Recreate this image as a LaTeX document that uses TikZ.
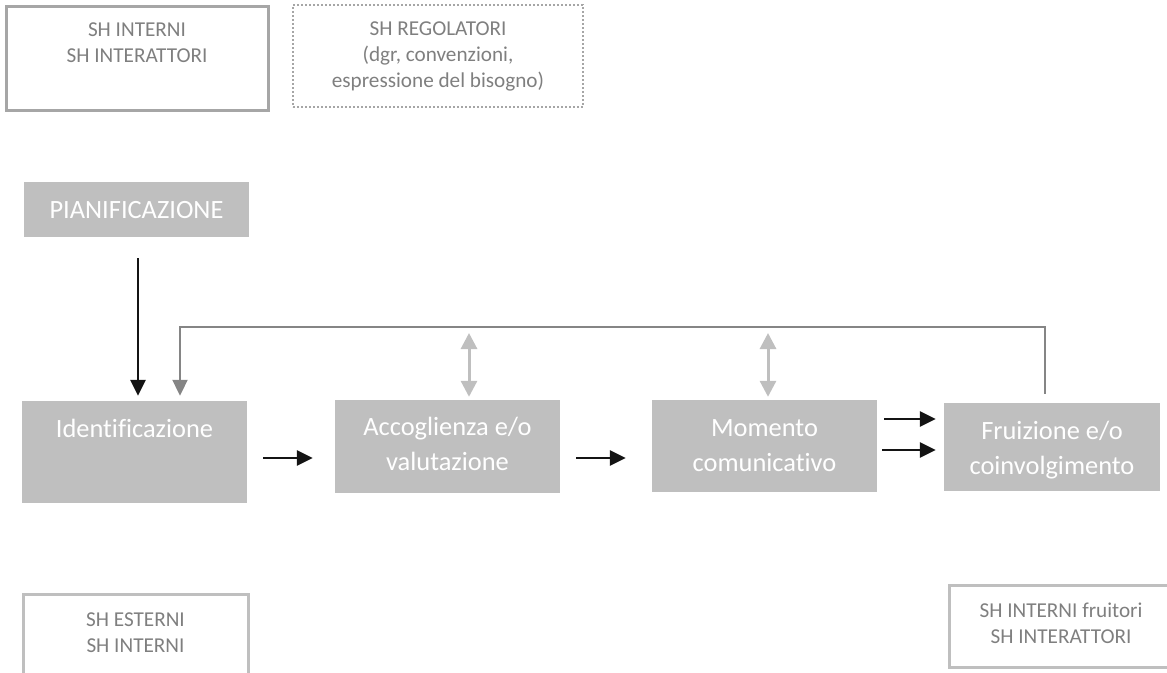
\documentclass[tikz,border=0pt]{standalone}
\usepackage{fontspec}
\setmainfont[Ligatures=NoCommon]{Carlito}
\usetikzlibrary{arrows.meta}
\definecolor{boxfill}{HTML}{BFBFBF}
\definecolor{soft}{HTML}{BFBFBF}
\definecolor{midgray}{HTML}{A6A6A6}
\definecolor{txtgray}{HTML}{7F7F7F}
\definecolor{fbgray}{HTML}{858585}
\definecolor{ink}{HTML}{141414}
\tikzset{
  stagebox/.style={draw=none, fill=boxfill, inner sep=0pt},
  framebox/.style={draw=soft, line width=3pt, fill=none, inner sep=0pt},
  stagetxt/.style={text=white, align=center, inner sep=0pt,
    font=\fontsize{26.4}{35}\selectfont},
  frametxt/.style={text=txtgray, align=center, inner sep=0pt,
    font=\fontsize{21.2}{26}\selectfont},
  flow/.style={draw=ink, line width=2.6pt,
    -{Triangle[length=16pt,width=15pt]}},
  loopback/.style={draw=fbgray, line width=2pt,
    -{Triangle[length=16pt,width=15pt]}},
  twoway/.style={draw=soft, line width=3pt,
    {Triangle[length=16pt,width=16pt]}-{Triangle[length=16pt,width=16pt]}},
}
\begin{document}
\begin{tikzpicture}[x=1pt, y=-1pt]
\useasboundingbox (0,0) rectangle (1167,672);

% stakeholder frames (text anchored at the baseline of its last line)
\node[framebox, draw=midgray, minimum width=262pt, minimum height=104pt] (shA) at (137,58) {};
\node[frametxt, anchor=base] (shAt) at ([yshift=-58pt]shA.north) {SH INTERNI\\SH INTERATTORI};

\node[framebox, draw=midgray, line width=2pt, dash pattern=on 2pt off 2pt,
      minimum width=290pt, minimum height=102pt] (shB) at (438,56) {};
\node[frametxt, anchor=base] (shBt) at ([yshift=-83pt]shB.north) {SH REGOLATORI\\(dgr, convenzioni,\\espressione del bisogno)};

\node[framebox, minimum width=225pt, minimum height=110pt] (shC) at (135.5,649) {};
\node[frametxt, anchor=base] (shCt) at ([yshift=-60pt]shC.north) {SH ESTERNI\\SH INTERNI};

\node[framebox, minimum width=224pt, minimum height=82pt] (shD) at (1061,626) {};
\node[frametxt, anchor=base] (shDt) at ([yshift=-60pt]shD.north) {SH INTERNI fruitori\\SH INTERATTORI};

% process stages
\node[stagebox, minimum width=225pt, minimum height=55pt] (pian) at (136.5,209.5) {};
\node[stagetxt, anchor=base] (piant) at ([yshift=-37pt]pian.north) {PIANIFICAZIONE};

\node[stagebox, minimum width=225pt, minimum height=102pt] (ident) at (134.5,452) {};
\node[stagetxt, anchor=base] (identt) at ([yshift=-37pt]ident.north) {Identificazione};

\node[stagebox, minimum width=225pt, minimum height=93pt] (accog) at (447.5,446.5) {};
\node[stagetxt, anchor=base] (accogt) at ([yshift=-71pt]accog.north) {Accoglienza e/o\\valutazione};

\node[stagebox, minimum width=225pt, minimum height=92pt] (momen) at (764.5,446) {};
\node[stagetxt, anchor=base] (moment) at ([yshift=-72pt]momen.north) {Momento\\comunicativo};

\node[stagebox, minimum width=216pt, minimum height=88pt] (fruiz) at (1052,447) {};
\node[stagetxt, anchor=base] (fruizt) at ([yshift=-72pt]fruiz.north) {Fruizione e/o\\coinvolgimento};

% feedback loop corners
\coordinate (fbR) at (1045,327);
\coordinate (fbL) at (180,327);

% flow arrows
\draw[flow, shorten <=21pt, shorten >=5pt] ([xshift=1.5pt]pian.south) -- ([xshift=3.5pt]ident.north);
\draw[flow, shorten <=16pt, shorten >=22pt] (ident.east |- 0,458) -- (accog.west |- 0,458);
\draw[flow, shorten <=16pt, shorten >=26pt] (accog.east |- 0,458) -- (momen.west |- 0,458);
\draw[flow, shorten <=7pt, shorten >=8pt] (momen.east |- 0,419) -- (fruiz.west |- 0,419);
\draw[flow, shorten <=5pt, shorten >=8pt] (momen.east |- 0,450) -- (fruiz.west |- 0,450);

% feedback from fruition back to identification
\draw[loopback, shorten <=9pt, shorten >=5pt]
  (fruiz.north -| fbR) -- (fbR) -- (fbL) -- (ident.north -| fbL);

% two-way links to the feedback line
\draw[twoway, shorten <=3pt, shorten >=6pt]
  ([xshift=21.5pt]accog.north) -- ([xshift=21.5pt]accog.north |- fbL);
\draw[twoway, shorten <=3pt, shorten >=6pt]
  ([xshift=3.5pt]momen.north) -- ([xshift=3.5pt]momen.north |- fbL);
\end{tikzpicture}
\end{document}
